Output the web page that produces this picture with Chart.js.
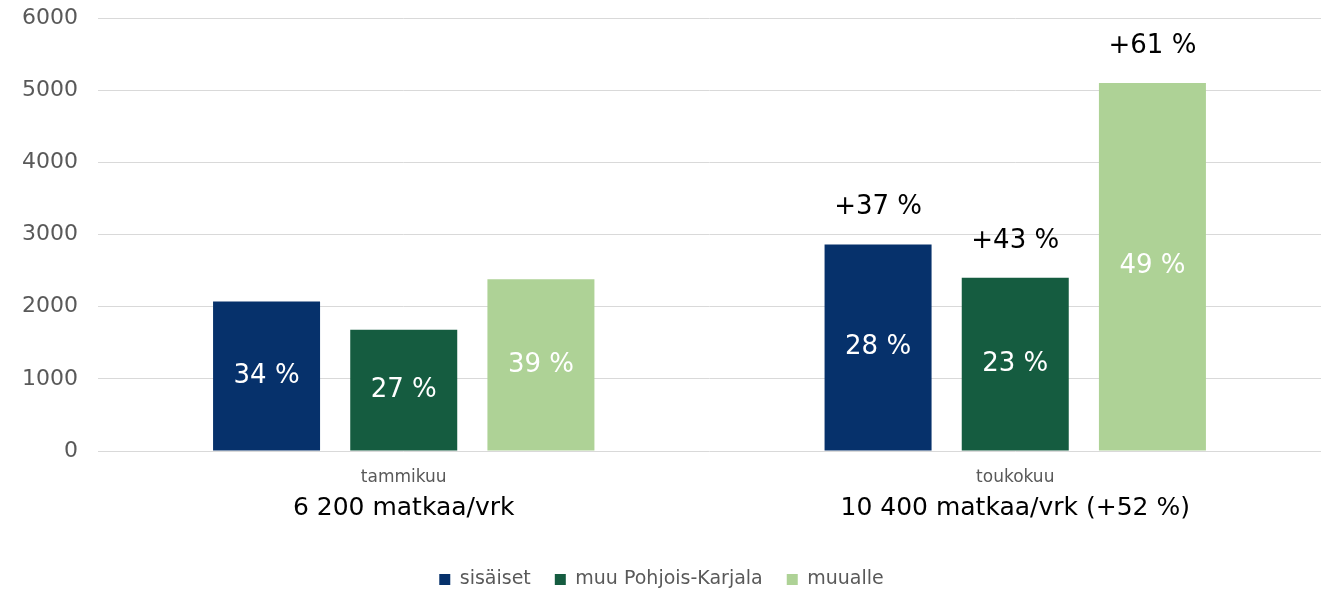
<!DOCTYPE html>
<html>
<head>
<meta charset="utf-8">
<script src="https://cdn.jsdelivr.net/npm/chart.js@4"></script>
<style>
  body { margin: 0; background: #fff; }
  #wrap { width: 1330px; height: 591px; }
</style>
</head>
<body>
<div id="wrap"><canvas id="tripChart"></canvas></div>
<script>
// data
const months = ['tammikuu', 'toukokuu'];
const totals = ['6 200 matkaa/vrk', '10 400 matkaa/vrk (+52 %)'];

const sisaiset = [2070, 2860];
const muuPK = [1680, 2400];
const muualle = [2380, 5100];

const sisaisetShare = ['34 %', '28 %'];
const muuPKShare = ['27 %', '23 %'];
const muualleShare = ['39 %', '49 %'];

const sisaisetChange = [null, '+37 %'];
const muuPKChange = [null, '+43 %'];
const muualleChange = [null, '+61 %'];

const yTicks = [0, 1000, 2000, 3000, 4000, 5000, 6000];

const FONT = "Verdana, 'DejaVu Sans', sans-serif";

// labels inside and above the bars + second line under categories
const barLabels = {
    id: 'barLabels',
    afterDatasetsDraw(chart) {
        const ctx = chart.ctx;
        ctx.save();
        ctx.textAlign = 'center';
        ctx.textBaseline = 'middle';
        chart.data.datasets.forEach((ds, i) => {
            const meta = chart.getDatasetMeta(i);
            meta.data.forEach((bar, j) => {
                ctx.font = '26px ' + FONT;
                ctx.fillStyle = '#ffffff';
                ctx.fillText(ds.shares[j], bar.x, (bar.y + bar.base) / 2);
                if (ds.changes[j]) {
                    ctx.fillStyle = '#000000';
                    ctx.fillText(ds.changes[j], bar.x, bar.y - 37);
                }
            });
        });
        const xs = chart.scales.x;
        ctx.font = '25px ' + FONT;
        ctx.fillStyle = '#000000';
        totals.forEach((t, i) => {
            ctx.fillText(t, xs.getPixelForTick(i), chart.chartArea.bottom + 57);
        });
        ctx.restore();
    }
};

new Chart(document.getElementById('tripChart'), {
    type: 'bar',
    data: {
        labels: months,
        datasets: [{
            label: 'sisäiset',
            data: sisaiset,
            shares: sisaisetShare,
            changes: sisaisetChange,
            backgroundColor: '#06316b'
        }, {
            label: 'muu Pohjois-Karjala',
            data: muuPK,
            shares: muuPKShare,
            changes: muuPKChange,
            backgroundColor: '#155c40'
        }, {
            label: 'muualle',
            data: muualle,
            shares: muualleShare,
            changes: muualleChange,
            backgroundColor: '#aed296'
        }]
    },
    options: {
        responsive: true,
        maintainAspectRatio: false,
        animation: false,
        categoryPercentage: 0.673,
        barPercentage: 0.78,
        layout: { padding: { top: 0, right: 9, left: 2, bottom: -8 } },
        plugins: {
            tooltip: { enabled: false },
            legend: {
                position: 'bottom',
                labels: {
                    boxWidth: 11,
                    boxHeight: 11,
                    padding: 24,
                    color: '#595959',
                    font: { family: FONT, size: 19 }
                }
            }
        },
        scales: {
            x: {
                grid: { display: false },
                border: { display: false },
                ticks: {
                    color: '#595959',
                    padding: 8,
                    font: { family: FONT, size: 17 }
                },
                afterFit(scale) { scale.height = 95; }
            },
            y: {
                min: 0,
                max: 6000,
                afterBuildTicks(scale) {
                    scale.ticks = yTicks.map(v => ({ value: v }));
                },
                // tick padding also pads the top; keep the plot top near the 6000 label
                afterFit(scale) {
                    scale.paddingTop = 18;
                    scale.paddingBottom = 12;
                },
                grid: { color: '#d9d9d9', drawTicks: false },
                border: { display: false },
                ticks: {
                    color: '#595959',
                    padding: 20,
                    font: { family: FONT, size: 22 },
                    callback: v => String(v)
                }
            }
        }
    },
    plugins: [barLabels]
});
</script>
</body>
</html>
